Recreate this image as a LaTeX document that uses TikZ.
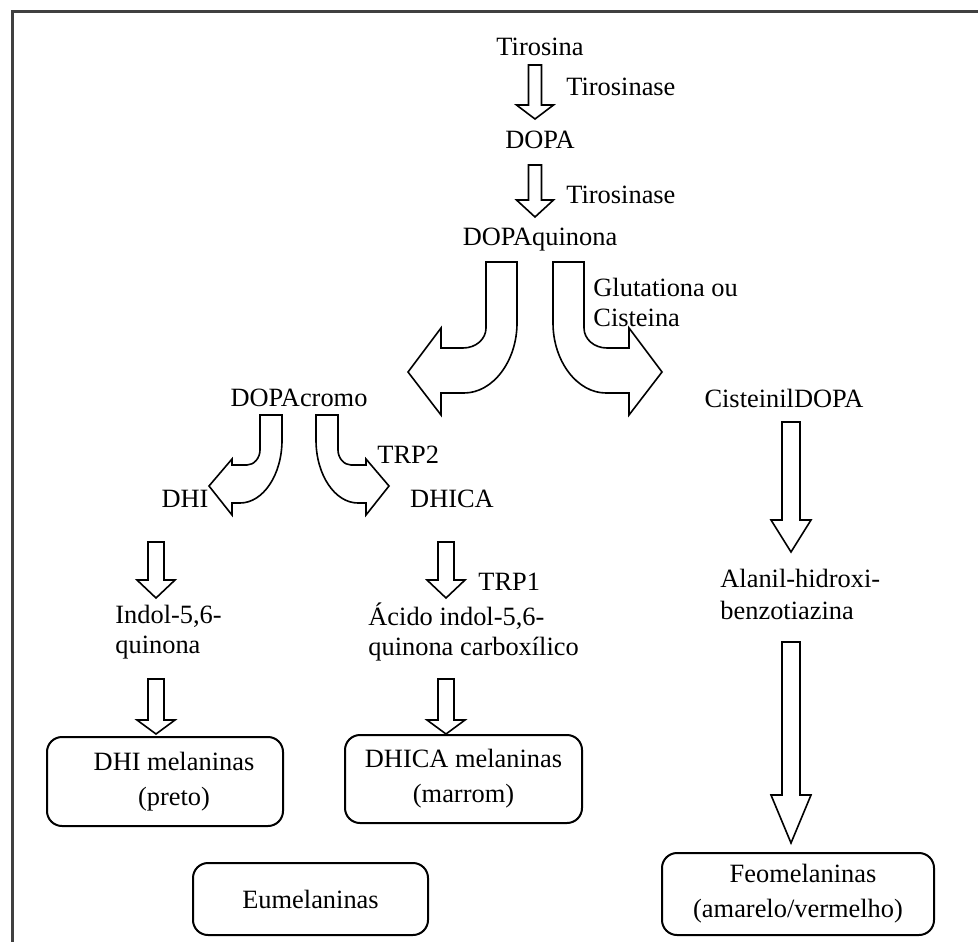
\documentclass[tikz,border=0pt]{standalone}
\usepackage{fontspec}
\setmainfont{Liberation Serif}
\newcommand\blockdown[6]{% cx, ytop, ybase, ytip, shaft half, head half
  \draw[blk] ({#1-#5},#2) -- ({#1+#5},#2) -- ({#1+#5},#3) -- ({#1+#6},#3) -- (#1,#4) -- ({#1-#6},#3) -- ({#1-#5},#3) -- cycle;}
\begin{document}
\begin{tikzpicture}[x=0.5pt,y=-0.5pt,
  lbl/.style={inner sep=0pt, font=\fontsize{13.2}{15}\selectfont},
  lbll/.style={lbl, anchor=west, align=left},
  blk/.style={draw=black, line width=0.8pt, fill=white, line join=miter},
  box/.style={draw=black, line width=1pt, rounded corners=7.5pt, align=center,
    font=\fontsize{13.2}{17.5}\selectfont, inner sep=0pt}]

\useasboundingbox (0,0) rectangle (978,941);
\fill[white] (0,0) rectangle (978,941);
\draw[line width=1.5pt, black!75] (990,12) -- (12,12) -- (12,950);

% labels
\node[lbl] (tir) at (540,47) {Tirosina};
\node[lbl, anchor=west] (enz1) at (566,87) {Tirosinase};
\node[lbl] (dopa) at (540,140) {DOPA};
\node[lbl, anchor=west] (enz2) at (566,195) {Tirosinase};
\node[lbl] (dq) at (540,240) {DOPAquinona};
\node[lbll] (glu) at (593,302) {Glutationa ou\\Cisteina};
\node[lbl] (dc) at (299,398) {DOPAcromo};
\node[lbl] (cd) at (784,398) {CisteinilDOPA};
\node[lbl, anchor=west] (trp2) at (377,455) {TRP2};
\node[lbl] (dhi) at (185,499) {DHI};
\node[lbl] (dhica) at (452,499) {DHICA};
\node[lbl, anchor=west] (trp1) at (478,582) {TRP1};
\node[lbll] (indol) at (115,632) {Indol-5,6-\\quinona};
\node[lbll] (acido) at (368,632) {Ácido indol-5,6-\\quinona carboxílico};
\node[lbll, font=\fontsize{13.2}{16}\selectfont] (alanil) at (720,594) {Alanil-hidroxi-\\benzotiazina};

% boxes
\node[box, minimum width=118pt, minimum height=44.5pt] (dhim) at (165,781.5) {\hspace*{9pt}DHI melaninas\\\hspace*{9pt}(preto)};
\node[box, minimum width=118.5pt, minimum height=44pt] (dhicam) at (463.5,779) {DHICA melaninas\\(marrom)};
\node[box, minimum width=117.5pt, minimum height=36pt] (eum) at (310.5,899) {Eumelaninas};
\node[box, minimum width=136pt, minimum height=41pt] (feo) at (798,894) {\hspace*{5pt}Feomelaninas\\(amarelo/vermelho)};

% straight block arrows
\blockdown{535}{65}{105}{119}{6.5}{18.5}
\blockdown{535}{165}{200}{217}{6.5}{18.5}
\blockdown{156}{542}{580}{598}{8}{19}
\blockdown{156}{679}{720}{734}{8}{19}
\blockdown{446}{542}{580}{598}{8}{19}
\blockdown{446}{679}{720}{734}{8}{19}
\blockdown{791}{422}{520}{552}{9}{20}
\blockdown{791}{642}{795}{843}{9}{20}

% big curved arrows from DOPAquinona
\begin{scope}[shift={(535,0)}]
  \draw[blk] (-49,262) -- (-18,262) -- (-18,323) .. controls (-18,361) and (-42,393) .. (-71,393)
    -- (-94,393) -- (-94,415) -- (-127,372) -- (-94,328) -- (-94,348) -- (-72,348)
    .. controls (-59,348) and (-49,339) .. (-49,328) -- cycle;
\end{scope}
\begin{scope}[shift={(535,0)}, xscale=-1]
  \draw[blk] (-49,262) -- (-18,262) -- (-18,323) .. controls (-18,361) and (-42,393) .. (-71,393)
    -- (-94,393) -- (-94,415) -- (-127,372) -- (-94,328) -- (-94,348) -- (-72,348)
    .. controls (-59,348) and (-49,339) .. (-49,328) -- cycle;
\end{scope}

% small curved arrows from DOPAcromo
\begin{scope}[shift={(299,0)}]
  \draw[blk] (-39,415) -- (-17,415) -- (-17,440) .. controls (-17,475) and (-36,503) .. (-59,503)
    -- (-67,503) -- (-67,515) -- (-90,486) -- (-67,459) -- (-67,465) -- (-52,465)
    .. controls (-45,465) and (-39,458) .. (-39,450) -- cycle;
\end{scope}
\begin{scope}[shift={(299,0)}, xscale=-1]
  \draw[blk] (-39,415) -- (-17,415) -- (-17,440) .. controls (-17,475) and (-36,503) .. (-59,503)
    -- (-67,503) -- (-67,515) -- (-90,486) -- (-67,459) -- (-67,465) -- (-52,465)
    .. controls (-45,465) and (-39,458) .. (-39,450) -- cycle;
\end{scope}
\end{tikzpicture}
\end{document}
